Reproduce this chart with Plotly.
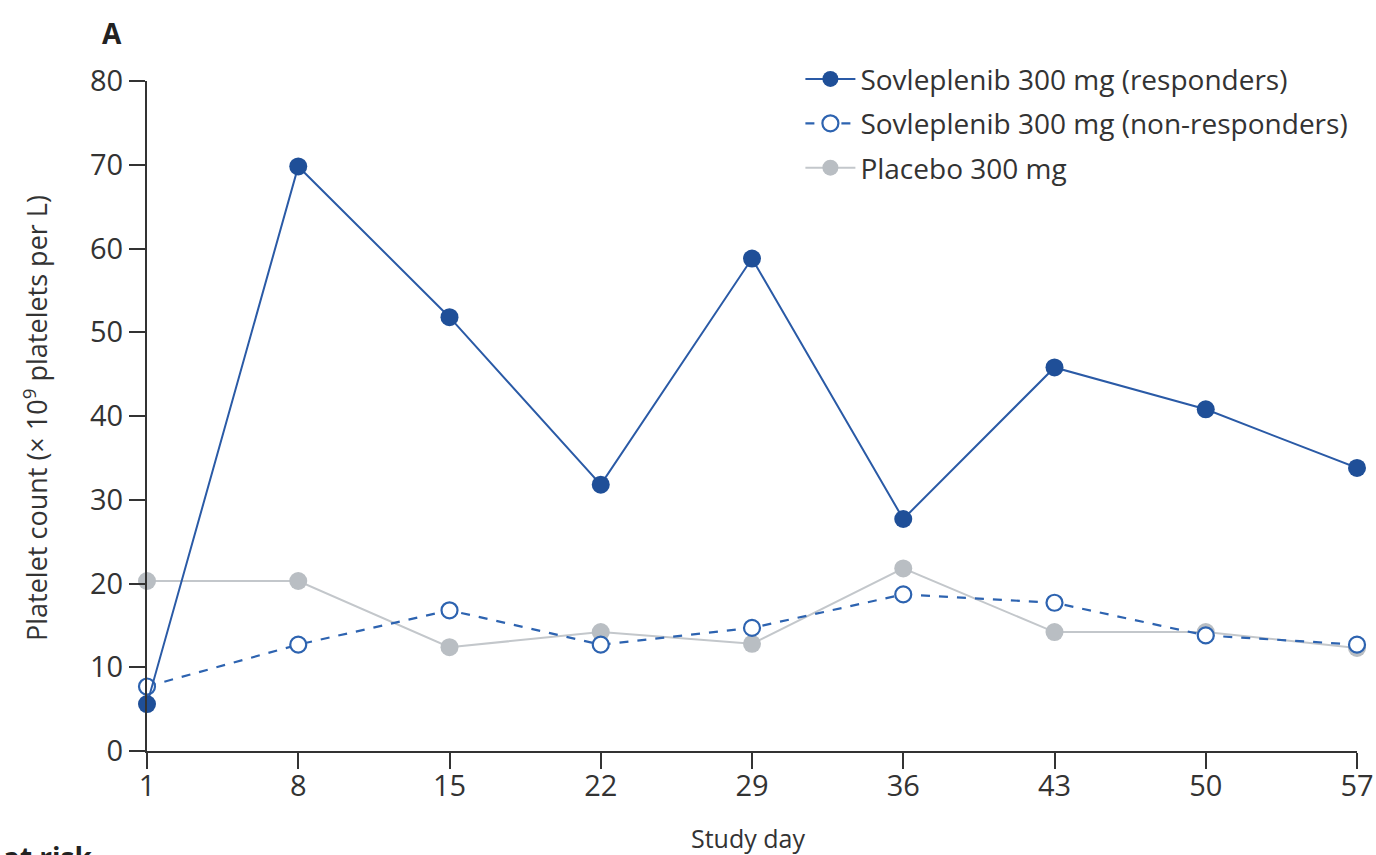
import plotly.graph_objects as go

days = [1, 8, 15, 22, 29, 36, 43, 50, 57]
responders = [5.6, 69.8, 51.8, 31.8, 58.8, 27.7, 45.8, 40.8, 33.8]
non_responders = [7.7, 12.7, 16.8, 12.7, 14.7, 18.7, 17.7, 13.8, 12.7]
placebo = [20.3, 20.3, 12.4, 14.2, 12.8, 21.8, 14.2, 14.2, 12.3]
names = ["Sovleplenib 300 mg (responders)",
         "Sovleplenib 300 mg (non-responders)",
         "Placebo 300 mg"]
y_ticks = [0, 10, 20, 30, 40, 50, 60, 70, 80]

FONT = "Open Sans, Noto Sans, sans-serif"
TXT = "#333333"

fig = go.Figure()
fig.add_trace(go.Scatter(
    x=days, y=placebo, name=names[2], mode="lines+markers",
    legendgroup="c", legendrank=3,
    line=dict(color="#c3c7cb", width=2),
    marker=dict(color="#b9bec3", size=18, line=dict(width=0)),
    cliponaxis=False))
fig.add_trace(go.Scatter(
    x=days, y=non_responders, name=names[1], mode="lines+markers",
    legendgroup="b", legendrank=2,
    line=dict(color="#2d63b0", width=2.2, dash="dash"),
    marker=dict(color="white", size=16, line=dict(color="#2d63b0", width=2.2)),
    cliponaxis=False))
fig.add_trace(go.Scatter(
    x=days, y=responders, name=names[0], mode="lines+markers",
    legendgroup="a", legendrank=1,
    line=dict(color="#2a5aa6", width=2),
    marker=dict(color="#1f4f98", size=18, line=dict(width=0)),
    cliponaxis=False))

fig.update_layout(
    width=1376, height=855,
    margin=dict(l=147, r=19, t=81, b=104),
    paper_bgcolor="white", plot_bgcolor="white",
    font=dict(family=FONT, color=TXT),
    showlegend=True,
    legend=dict(x=0.540, y=1.040, xanchor="left", yanchor="top",
                traceorder="grouped",
                font=dict(family=FONT, size=28, color=TXT),
                bgcolor="rgba(0,0,0,0)", itemwidth=50,
                tracegroupgap=5),
    xaxis=dict(range=[1, 57], tickvals=days, ticktext=[str(d) for d in days],
               showgrid=False, zeroline=False, showline=True, automargin=False,
               linecolor=TXT, linewidth=2,
               ticks="outside", ticklen=16, tickwidth=2, tickcolor=TXT,
               ticklabelstandoff=-8,
               tickfont=dict(family=FONT, size=29, color=TXT)),
    yaxis=dict(range=[0, 80], tickvals=y_ticks,
               showgrid=False, zeroline=False, showline=True, automargin=False,
               linecolor=TXT, linewidth=2,
               ticks="outside", ticklen=16, tickwidth=2, tickcolor=TXT,
               tickfont=dict(family=FONT, size=29, color=TXT)),
)

# axis titles
fig.add_annotation(x=(748 - 147) / 1210, y=(751 - 838) / 670, xref="paper", yref="paper",
                   text="Study day", showarrow=False, xanchor="center", yanchor="middle",
                   font=dict(family=FONT, size=25, color=TXT))
fig.add_annotation(x=(36 - 147) / 1210, y=(751 - 418) / 670, xref="paper", yref="paper",
                   text="Platelet count (× 10<sup>9</sup> platelets per L)", textangle=-90,
                   showarrow=False, xanchor="center", yanchor="middle",
                   font=dict(family=FONT, size=27, color=TXT))
# panel label
fig.add_annotation(x=(112 - 147) / 1210, y=(751 - 33) / 670, xref="paper", yref="paper",
                   text="<b>A</b>", showarrow=False, xanchor="center", yanchor="middle",
                   font=dict(family=FONT, size=28, color="#222222"))
# partially visible text at bottom-left, as in the source
fig.add_annotation(x=(95 - 147) / 1210, y=(751 - 836) / 670, xref="paper", yref="paper",
                   text="<b>at risk</b>", showarrow=False, xanchor="right", yanchor="top",
                   font=dict(family=FONT, size=28, color="#222222"))

fig.write_html("out.html")
